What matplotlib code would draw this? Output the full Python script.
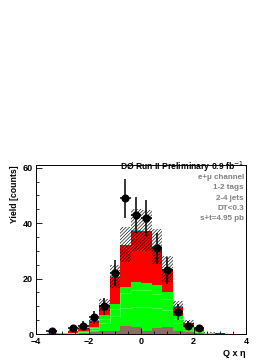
import numpy as np
import matplotlib
matplotlib.use("Agg")
import matplotlib.pyplot as plt
from matplotlib.ticker import MultipleLocator

plt.rcParams['font.family'] = ['Liberation Sans', 'DejaVu Sans']
plt.rcParams['hatch.linewidth'] = 0.45

# --- data -------------------------------------------------------------
edges = np.round(np.arange(-4.0, 4.0001, 0.4), 2)
data_counts = [0, 1, 0, 2, 3, 6, 10, 22, 49, 43, 42, 31, 23, 8, 3, 2, 0, 0, 0, 0]
brown_vals = [0, 0.1, 0.1, 0.2, 0.5, 0.8, 1.0, 1.2, 2.9, 2.6, 1.2, 2.0, 2.5, 1.0, 0.6, 0.3, 0.1, 0, 0, 0]
green_a_vals = [0, 0, 0.1, 0.1, 0.1, 0.7, 3.0, 5.3, 6.4, 7.3, 8.7, 7.3, 6.0, 3.0, 0.9, 0.3, 0.1, 0.1, 0, 0]
green_b_vals = [0, 0.05, 0.05, 0.1, 0.2, 0.6, 1.5, 2.5, 5.4, 6.0, 6.0, 5.3, 4.0, 1.5, 0.6, 0.2, 0.1, 0, 0, 0]
green_c_vals = [0, 0.05, 0.05, 0.1, 0.2, 0.5, 1.4, 1.8, 2.3, 2.8, 2.4, 3.1, 2.5, 1.0, 0.5, 0.2, 0.1, 0, 0, 0]
red_vals = [0, 0.1, 0.1, 0.7, 1.2, 2.2, 3.4, 9.7, 15.0, 18.6, 18.7, 13.6, 8.3, 3.3, 1.4, 1.0, 0.1, 0.1, 0, 0]
cyan_vals = [0, 0, 0, 0.05, 0.1, 0.15, 0.2, 0.3, 0.3, 0.3, 0.3, 0.3, 0.3, 0.2, 0.1, 0.05, 0, 0, 0, 0]
rel_unc = 0.2

text_lines = ["e+\u03bc channel", "1-2 tags", "2-4 jets", "DT<0.3", "s+t=4.95 pb"]

# --- figure -----------------------------------------------------------
W, H = 279, 361
fig = plt.figure(figsize=(W / 100, H / 100), dpi=100)
ax = fig.add_axes([36 / W, (H - 334) / H, 210 / W, 169 / H])

components = [
    (brown_vals, '#8a6e64', None),
    (green_a_vals, '#00ff00', '#5cff5c'),
    (green_b_vals, '#00ff00', '#5cff5c'),
    (green_c_vals, '#00ff00', None),
    (red_vals, '#ff0000', None),
    (cyan_vals, '#33bbee', None),
]
base = np.zeros(len(edges) - 1)
for vals, col, edge in components:
    v = np.array(vals)
    ax.stairs(base + v, edges, baseline=base, fill=True, color=col, lw=0)
    if edge is not None:
        ax.stairs(base + v, edges, baseline=None, fill=False, color=edge, lw=0.5)
    base = base + v
total = base

# uncertainty band (hatched)
for i in range(len(total)):
    if total[i] <= 0:
        continue
    lo = total[i] * (1 - rel_unc)
    hi = total[i] * (1 + rel_unc)
    ax.fill_between([edges[i], edges[i + 1]], lo, hi, facecolor='none',
                    edgecolor='black', hatch='//////////', lw=0)

# data
centers = 0.5 * (edges[:-1] + edges[1:])
d = np.array(data_counts, dtype=float)
m = d > 0
ax.errorbar(centers[m], d[m], yerr=np.sqrt(d[m]), xerr=0.2, fmt='o', color='black',
            ms=4.8, elinewidth=1.1, capsize=0)

ax.set_xlim(-4, 4)
ax.set_ylim(0, 61)
ax.xaxis.set_major_locator(MultipleLocator(2))
ax.xaxis.set_minor_locator(MultipleLocator(0.5))
ax.yaxis.set_major_locator(MultipleLocator(20))
ax.yaxis.set_minor_locator(MultipleLocator(5))
ax.tick_params(which='both', direction='in', top=False, right=False, labelsize=6.5, pad=2)
ax.tick_params(which='major', length=4.5, width=0.6)
ax.tick_params(which='minor', length=2.2, width=0.6)
for lbl in ax.get_xticklabels() + ax.get_yticklabels():
    lbl.set_fontweight('bold')
for s in ax.spines.values():
    s.set_linewidth(0.7)

ax.set_xlabel("Q x \u03b7", fontsize=6.5, fontweight='bold', loc='right', labelpad=2)
ax.set_ylabel("Yield [counts]", fontsize=6.3, fontweight='bold', loc='top', labelpad=3)

ax.text(0.99, 0.988, "D\u00d8 Run II Preliminary 0.9 fb$^{-1}$", transform=ax.transAxes,
        ha='right', va='center', fontsize=6.2, fontweight='bold', color='black')
ys = [0.925, 0.866, 0.803, 0.74, 0.682]
for t, yy in zip(text_lines, ys):
    ax.text(0.99, yy, t, transform=ax.transAxes, ha='right', va='center',
            fontsize=5.8, fontweight='bold', color='#808080')

fig.savefig("out.png", dpi=100)
